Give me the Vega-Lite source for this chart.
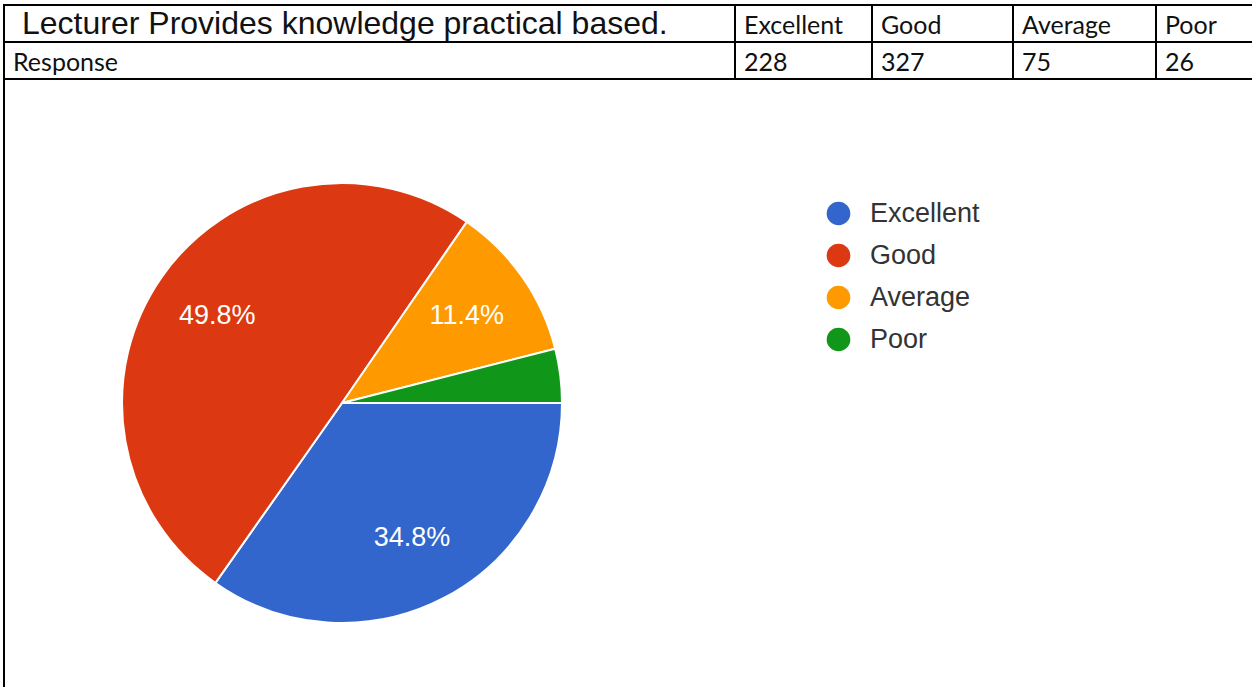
{
  "$schema": "https://vega.github.io/schema/vega-lite/v6.json",
  "width": 1252,
  "height": 687,
  "autosize": {"type": "none"},
  "padding": 0,
  "background": "white",
  "config": {"view": {"stroke": null}},
  "datasets": {
    "cells": [
      {"row": 0, "rowEnd": 1, "col": 0, "colEnd": 1, "text": "Lecturer Provides knowledge practical based."},
      {"row": 0, "rowEnd": 1, "col": 1, "colEnd": 2, "text": "Excellent"},
      {"row": 0, "rowEnd": 1, "col": 2, "colEnd": 3, "text": "Good"},
      {"row": 0, "rowEnd": 1, "col": 3, "colEnd": 4, "text": "Average"},
      {"row": 0, "rowEnd": 1, "col": 4, "colEnd": 5, "text": "Poor"},
      {"row": 1, "rowEnd": 2, "col": 0, "colEnd": 1, "text": "Response"},
      {"row": 1, "rowEnd": 2, "col": 1, "colEnd": 2, "text": "228"},
      {"row": 1, "rowEnd": 2, "col": 2, "colEnd": 3, "text": "327"},
      {"row": 1, "rowEnd": 2, "col": 3, "colEnd": 4, "text": "75"},
      {"row": 1, "rowEnd": 2, "col": 4, "colEnd": 5, "text": "26"},
      {"row": 2, "rowEnd": 3, "col": 0, "colEnd": 5, "text": ""}
    ],
    "pie": [
      {"rating": "Excellent", "count": 228, "k": 1, "label": "34.8%"},
      {"rating": "Good", "count": 327, "k": 2, "label": "49.8%"},
      {"rating": "Average", "count": 75, "k": 3, "label": "11.4%"},
      {"rating": "Poor", "count": 26, "k": 4, "label": ""}
    ]
  },
  "layer": [
    {
      "data": {"name": "cells"},
      "mark": {"type": "rect", "fill": null, "stroke": "black", "strokeWidth": 2},
      "encoding": {
        "x": {"field": "col", "type": "quantitative", "axis": null,
              "scale": {"domain": [0, 1, 2, 3, 4, 5], "range": [4, 735, 872, 1013, 1156, 1264], "clamp": false, "nice": false, "zero": false}},
        "x2": {"field": "colEnd"},
        "y": {"field": "row", "type": "quantitative", "axis": null,
              "scale": {"domain": [0, 1, 2, 3], "range": [5, 42, 79, 700], "nice": false, "zero": false}},
        "y2": {"field": "rowEnd"}
      }
    },
    {
      "data": {"name": "cells"},
      "transform": [{"filter": "datum.row == 0 && datum.col == 0"}],
      "mark": {"type": "text", "align": "left", "baseline": "alphabetic", "dx": 18, "dy": -8, "font": "Liberation Sans", "fontSize": 32, "fill": "#111"},
      "encoding": {
        "x": {"field": "col", "type": "quantitative"},
        "y": {"field": "rowEnd", "type": "quantitative"},
        "text": {"field": "text"}
      }
    },
    {
      "data": {"name": "cells"},
      "transform": [{"filter": "!(datum.row == 0 && datum.col == 0) && datum.row < 2"}],
      "mark": {"type": "text", "align": "left", "baseline": "alphabetic", "dx": 9, "dy": -8, "font": "Lato", "fontSize": 25, "fill": "#111"},
      "encoding": {
        "x": {"field": "col", "type": "quantitative"},
        "y": {"field": "rowEnd", "type": "quantitative"},
        "text": {"field": "text"}
      }
    },
    {
      "data": {"name": "pie"},
      "mark": {"type": "arc", "x": 342, "y": 403, "outerRadius": 220, "stroke": "white", "strokeWidth": 2},
      "encoding": {
        "theta": {"field": "count", "type": "quantitative", "stack": true, "scale": {"range": [1.5708, 7.854]}},
        "order": {"field": "k", "type": "quantitative"},
        "color": {
          "field": "rating", "type": "nominal",
          "scale": {"domain": ["Excellent", "Good", "Average", "Poor"], "range": ["#3366cc", "#dc3912", "#ff9900", "#109618"]},
          "legend": {
            "orient": "none", "legendX": 825, "legendY": 200, "title": null,
            "symbolType": "circle", "symbolSize": 560, "symbolStrokeWidth": 0, "symbolOpacity": 1,
            "labelFont": "Liberation Sans", "labelFontSize": 27, "labelColor": "#333",
            "labelOffset": 18, "rowPadding": 14, "padding": 0
          }
        }
      }
    },
    {
      "data": {"name": "pie"},
      "mark": {"type": "text", "x": 342, "y": 403, "radius": 152, "fill": "white", "font": "Liberation Sans", "fontSize": 27},
      "encoding": {
        "theta": {"field": "count", "type": "quantitative", "stack": true},
        "order": {"field": "k", "type": "quantitative"},
        "detail": {"field": "rating", "type": "nominal"},
        "text": {"field": "label"}
      }
    }
  ]
}
